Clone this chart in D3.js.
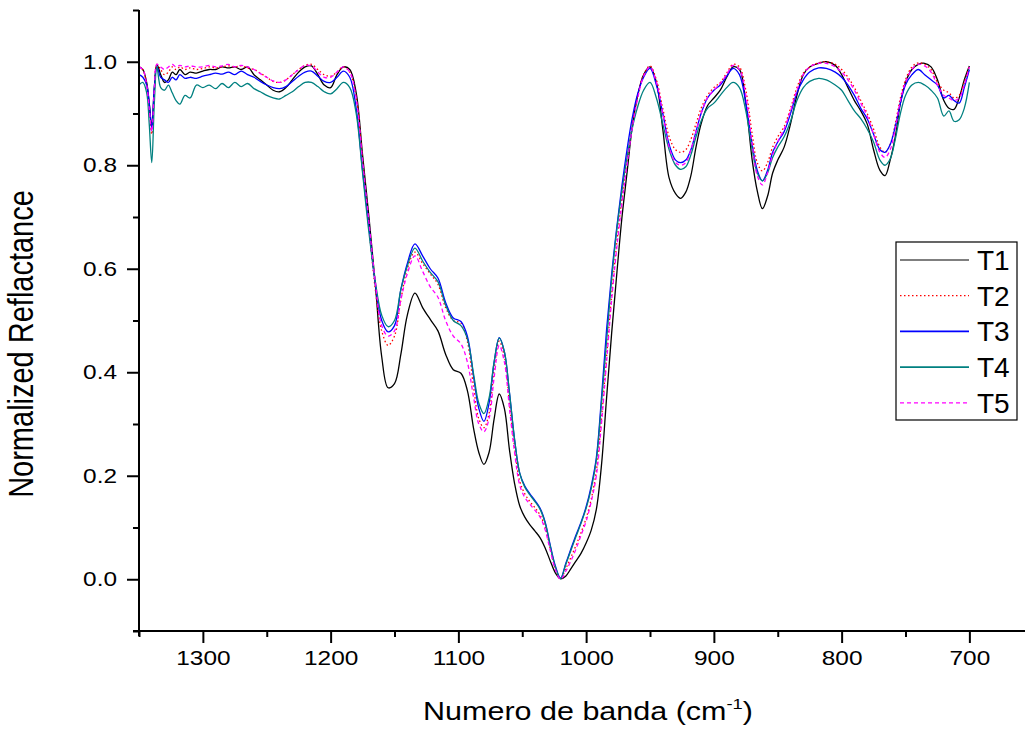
<!DOCTYPE html>
<html>
<head>
<meta charset="utf-8">
<script src="https://cdn.jsdelivr.net/npm/d3@7"></script>
<style>
  body { margin: 0; background: #fff; }
  svg { font-family: "Liberation Sans", Arial, sans-serif; }
</style>
</head>
<body>
<svg id="chart" width="1025" height="731"></svg>
<script>
// wavenumber grid (cm-1), shared by every series
var wavenumbers = [
  1350, 1347, 1344, 1342, 1340, 1338, 1336, 1333, 1330, 1327,
  1324, 1321, 1318, 1314, 1310, 1305, 1300, 1295, 1290, 1285,
  1280, 1275, 1270, 1265, 1260, 1255, 1250, 1245, 1240, 1235,
  1230, 1225, 1220, 1215, 1210, 1205, 1200, 1195, 1190,
  1185, 1180, 1175, 1170, 1165, 1160, 1155, 1150, 1145, 1140,
  1134, 1128, 1122, 1116, 1110, 1104, 1098, 1093, 1088, 1084,
  1080, 1076, 1072, 1068, 1064, 1060, 1056, 1052, 1048, 1044,
  1040, 1036, 1032, 1028, 1024, 1020, 1016, 1012, 1008, 1004,
  1000, 996, 992, 988, 984, 980, 976, 972, 968, 964,
  960, 955, 950,
  945, 940, 935, 930, 926, 922, 918, 914, 910, 905,
  900, 895, 890, 885, 880, 875, 870, 866, 862, 858,
  854, 850, 845, 840, 835, 830, 825, 818, 812, 805,
  800, 795, 790, 785, 780, 775, 770, 766, 762, 758,
  754, 750, 745, 740, 735, 730, 725, 720, 716, 712,
  708, 704, 700
];

var t1 = [
  0.99, 0.985, 0.96, 0.92, 0.875, 0.95, 0.995, 0.975, 0.96, 0.965,
  0.98, 0.975, 0.985, 0.975, 0.98, 0.978, 0.982, 0.985, 0.985, 0.99,
  0.988, 0.99, 0.985, 0.99, 0.975, 0.965, 0.955, 0.945, 0.942, 0.95,
  0.965, 0.98, 0.99, 0.992, 0.975, 0.955, 0.95, 0.975, 0.99,
  0.985, 0.94, 0.82, 0.70, 0.57, 0.43, 0.37, 0.378, 0.435, 0.51,
  0.553, 0.525, 0.502, 0.48, 0.435, 0.405, 0.398, 0.365, 0.29, 0.245,
  0.222, 0.245, 0.31, 0.358, 0.33, 0.25, 0.185, 0.142, 0.12, 0.105,
  0.093, 0.08, 0.06, 0.035, 0.012, 0.001, 0.006, 0.02, 0.035, 0.05,
  0.07, 0.095, 0.135, 0.22, 0.35, 0.476, 0.59, 0.698, 0.785, 0.872,
  0.93, 0.975, 0.99,
  0.96, 0.87, 0.775, 0.745, 0.736, 0.748, 0.78, 0.835, 0.88, 0.915,
  0.93, 0.945, 0.97, 0.99, 0.985, 0.92, 0.81, 0.75, 0.716, 0.74,
  0.785, 0.81, 0.835, 0.88, 0.935, 0.975, 0.99, 0.997, 1.0, 0.993,
  0.975, 0.95, 0.925, 0.905, 0.88, 0.83, 0.79, 0.78, 0.81, 0.855,
  0.92, 0.96, 0.985, 0.995, 0.997, 0.99, 0.965, 0.925, 0.91, 0.908,
  0.93, 0.965, 0.992
];

var t2 = [
  0.99, 0.985, 0.955, 0.91, 0.86, 0.94, 0.995, 0.985, 0.975, 0.98,
  0.99, 0.985, 0.99, 0.985, 0.988, 0.985, 0.987, 0.99, 0.988, 0.99,
  0.992, 0.99, 0.992, 0.988, 0.985, 0.978, 0.97, 0.962, 0.96, 0.965,
  0.975, 0.985, 0.993, 0.995, 0.985, 0.975, 0.972, 0.98, 0.99,
  0.98, 0.93, 0.81, 0.68, 0.56, 0.48, 0.452, 0.47, 0.54, 0.6,
  0.632, 0.61, 0.59, 0.57, 0.525, 0.5, 0.495, 0.46, 0.37, 0.31,
  0.293, 0.32, 0.405, 0.46, 0.43, 0.34, 0.255, 0.19, 0.165, 0.15,
  0.138, 0.124, 0.1, 0.058, 0.02, 0.001, 0.02, 0.042, 0.065, 0.09,
  0.118, 0.155, 0.21, 0.31, 0.43, 0.55, 0.65, 0.735, 0.81, 0.875,
  0.93, 0.975, 0.992,
  0.965, 0.91, 0.855, 0.83, 0.825, 0.83, 0.85, 0.88, 0.91, 0.935,
  0.95, 0.96, 0.978, 0.995, 0.99, 0.945, 0.86, 0.805, 0.789, 0.805,
  0.835, 0.855, 0.875, 0.91, 0.95, 0.978, 0.99, 0.998, 1.0, 0.995,
  0.985, 0.97, 0.95, 0.925, 0.9, 0.87, 0.835, 0.825, 0.84, 0.88,
  0.93, 0.965, 0.99, 0.998, 0.995, 0.985, 0.96, 0.945, 0.94, 0.93,
  0.935, 0.96, 0.993
];

var t3 = [
  0.975, 0.97, 0.955, 0.92, 0.87, 0.95, 0.99, 0.97, 0.965, 0.96,
  0.97, 0.965, 0.975, 0.968, 0.97, 0.968, 0.972, 0.975, 0.978, 0.976,
  0.98, 0.975, 0.982, 0.975, 0.97, 0.962, 0.955, 0.95, 0.948, 0.952,
  0.962, 0.972, 0.98, 0.982, 0.972, 0.962, 0.96, 0.97, 0.982,
  0.97, 0.91, 0.79, 0.68, 0.57, 0.5, 0.478, 0.49, 0.56, 0.61,
  0.648, 0.625, 0.6, 0.582, 0.535, 0.505, 0.498, 0.47, 0.39, 0.33,
  0.305, 0.34, 0.42, 0.467, 0.44, 0.36, 0.27, 0.205, 0.18, 0.165,
  0.152, 0.137, 0.11, 0.065, 0.025, 0.002, 0.03, 0.058, 0.085, 0.11,
  0.14, 0.18, 0.235, 0.35, 0.482, 0.59, 0.68, 0.76, 0.83, 0.89,
  0.935, 0.97, 0.987,
  0.955, 0.9, 0.84, 0.81, 0.805, 0.81, 0.83, 0.865, 0.9, 0.93,
  0.945, 0.955, 0.972, 0.987, 0.975, 0.92, 0.84, 0.79, 0.77, 0.79,
  0.825, 0.845, 0.865, 0.9, 0.94, 0.965, 0.98, 0.988, 0.987, 0.98,
  0.97, 0.955, 0.935, 0.91, 0.89, 0.86, 0.83, 0.825, 0.84, 0.875,
  0.92, 0.955, 0.975, 0.985, 0.975, 0.965, 0.955, 0.93, 0.935, 0.925,
  0.92, 0.95, 0.985
];

var t4 = [
  0.955, 0.96, 0.94, 0.88, 0.805, 0.92, 0.99, 0.95, 0.945, 0.955,
  0.94, 0.925, 0.918, 0.935, 0.93, 0.955, 0.95, 0.955, 0.948, 0.958,
  0.95, 0.96, 0.952, 0.958, 0.948, 0.942, 0.935, 0.93, 0.928, 0.935,
  0.942, 0.952, 0.96, 0.96, 0.952, 0.942, 0.938, 0.948, 0.96,
  0.95, 0.9, 0.785, 0.67, 0.575, 0.51, 0.488, 0.5, 0.56, 0.605,
  0.64, 0.615, 0.593, 0.575, 0.53, 0.5, 0.49, 0.465, 0.395, 0.34,
  0.32, 0.35, 0.42, 0.466, 0.44, 0.36, 0.27, 0.205, 0.178, 0.163,
  0.15, 0.135, 0.108, 0.063, 0.023, 0.001, 0.028, 0.055, 0.082, 0.108,
  0.137, 0.175, 0.23, 0.34, 0.46, 0.58, 0.675, 0.75, 0.815, 0.87,
  0.91, 0.945, 0.96,
  0.93, 0.88, 0.83, 0.8, 0.792, 0.797, 0.82, 0.855, 0.885, 0.91,
  0.92, 0.935, 0.95, 0.96, 0.95, 0.905, 0.83, 0.785, 0.77, 0.785,
  0.815, 0.835, 0.855, 0.885, 0.925, 0.95, 0.962, 0.968, 0.965, 0.955,
  0.945, 0.925, 0.905, 0.89, 0.87, 0.845, 0.81, 0.8, 0.812, 0.85,
  0.9, 0.935, 0.955, 0.96, 0.955, 0.945, 0.93, 0.895, 0.905, 0.885,
  0.888, 0.91, 0.96
];

var t5 = [
  0.99, 0.985, 0.955, 0.91, 0.865, 0.945, 0.995, 0.99, 0.985, 0.99,
  0.995, 0.99, 0.993, 0.99, 0.992, 0.99, 0.99, 0.993, 0.99, 0.992,
  0.995, 0.99, 0.993, 0.99, 0.985, 0.977, 0.97, 0.963, 0.96, 0.965,
  0.975, 0.985, 0.993, 0.992, 0.98, 0.97, 0.97, 0.98, 0.99,
  0.98, 0.93, 0.81, 0.69, 0.575, 0.49, 0.47, 0.48, 0.54, 0.59,
  0.625, 0.595, 0.565, 0.545, 0.5, 0.47, 0.455, 0.42, 0.35, 0.3,
  0.285, 0.31, 0.39, 0.452, 0.42, 0.33, 0.245, 0.182, 0.158, 0.145,
  0.133, 0.12, 0.095, 0.055, 0.018, 0.0, 0.015, 0.035, 0.058, 0.085,
  0.112, 0.15, 0.2, 0.3, 0.42, 0.54, 0.64, 0.725, 0.8, 0.87,
  0.925, 0.972, 0.99,
  0.96, 0.9, 0.835, 0.805, 0.8, 0.805, 0.83, 0.865, 0.9, 0.93,
  0.945, 0.958, 0.975, 0.993, 0.985, 0.935, 0.84, 0.78, 0.762, 0.785,
  0.82, 0.845, 0.87, 0.905, 0.945, 0.975, 0.99, 0.997, 0.997, 0.99,
  0.98, 0.965, 0.945, 0.92, 0.895, 0.86, 0.825, 0.815, 0.83, 0.87,
  0.925, 0.96, 0.985, 0.995, 0.992, 0.98, 0.955, 0.935, 0.93, 0.925,
  0.93, 0.955, 0.99
];

var seriesNames = ["T1", "T2", "T3", "T4", "T5"];
var seriesValues = [t1, t2, t3, t4, t5];
var xMajorTicks = [1300, 1200, 1100, 1000, 900, 800, 700];
var xMinorTicks = [1350, 1250, 1150, 1050, 950, 850, 750, 650];
var yMajorTicks = [0.0, 0.2, 0.4, 0.6, 0.8, 1.0];
var yMinorTicks = [-0.1, 0.1, 0.3, 0.5, 0.7, 0.9, 1.1];

var styles = {
  T1: { color: "#000000", dash: null, legendWidth: 1.2 },
  T2: { color: "#ff0000", dash: "1.5,2.5", legendWidth: 1.3 },
  T3: { color: "#0000ff", dash: null, legendWidth: 1.8 },
  T4: { color: "#008080", dash: null, legendWidth: 1.8 },
  T5: { color: "#ff00ff", dash: "4,3", legendWidth: 1.3 }
};

var svg = d3.select("#chart");
var plotLeft = 139, plotBottom = 631, plotTop = 10;
var stretch = 1.22; // the original figure is wider than its fonts

var x = d3.scaleLinear().domain([1350, 650]).range([plotLeft, plotLeft + 700 * 1.2775]);
var y = d3.scaleLinear().domain([-0.1, 1.1]).range([plotBottom, plotTop]);

function widen(sel) {
  sel.each(function () {
    var w = this.getComputedTextLength();
    d3.select(this).attr("textLength", w * stretch).attr("lengthAdjust", "spacingAndGlyphs");
  });
}

// curves
var line = d3.line()
  .x(function (d) { return x(d[0]); })
  .y(function (d) { return y(d[1]); })
  .curve(d3.curveCatmullRom.alpha(0.5));

var plot = svg.append("g");
seriesNames.forEach(function (name, i) {
  var pts = wavenumbers.map(function (w, j) { return [w, seriesValues[i][j]]; });
  plot.append("path")
    .datum(pts)
    .attr("fill", "none")
    .attr("stroke", styles[name].color)
    .attr("stroke-width", 1.3)
    .attr("stroke-dasharray", styles[name].dash)
    .attr("d", line);
});

// x axis
var xMinorG = svg.append("g").attr("transform", "translate(0," + plotBottom + ")")
  .call(d3.axisBottom(x).tickValues(xMinorTicks).tickSize(6).tickFormat(""));
xMinorG.select(".domain").remove();
var xMajorG = svg.append("g").attr("transform", "translate(0," + plotBottom + ")")
  .call(d3.axisBottom(x).tickValues(xMajorTicks).tickSize(12).tickSizeOuter(0)
    .tickPadding(8).tickFormat(d3.format("d")));
xMajorG.selectAll("text").attr("font-size", 20).attr("fill", "#000")
  .attr("font-family", "Liberation Sans, Arial, sans-serif").call(widen);
xMajorG.select(".domain").attr("d", "M" + (plotLeft - 6) + ",0H1025");

// y axis
var yMinorG = svg.append("g").attr("transform", "translate(" + plotLeft + ",0)")
  .call(d3.axisLeft(y).tickValues(yMinorTicks).tickSize(6).tickFormat(""));
yMinorG.select(".domain").remove();
var yMajorG = svg.append("g").attr("transform", "translate(" + plotLeft + ",0)")
  .call(d3.axisLeft(y).tickValues(yMajorTicks).tickSize(12).tickSizeOuter(0)
    .tickPadding(10).tickFormat(d3.format(".1f")));
yMajorG.selectAll("text").attr("font-size", 20).attr("fill", "#000")
  .attr("font-family", "Liberation Sans, Arial, sans-serif").call(widen);
yMajorG.select(".domain").attr("d", "M0," + plotTop + "V" + (plotBottom + 5));

svg.selectAll(".tick line, .domain").attr("stroke", "#000").attr("stroke-width", 2);

// titles
var xt = svg.append("text")
  .attr("x", 588).attr("y", 720)
  .attr("text-anchor", "middle")
  .attr("font-size", 25)
  .attr("transform", "translate(588,0) scale(" + stretch + ",1) translate(-588,0)");
xt.append("tspan").text("Numero de banda (cm");
xt.append("tspan").attr("font-size", 15).attr("dy", -11).text("-1");
xt.append("tspan").attr("dy", 11).text(")");

svg.append("text")
  .attr("transform", "translate(33,344) scale(" + stretch + ",1) rotate(-90)")
  .attr("text-anchor", "middle")
  .attr("font-size", 29)
  .text("Normalized Reflactance");

// legend
var lg = svg.append("g");
lg.append("rect")
  .attr("x", 896).attr("y", 242).attr("width", 121).attr("height", 178)
  .attr("fill", "#fff").attr("stroke", "#000").attr("stroke-width", 1.2);
seriesNames.forEach(function (name, i) {
  var ly = 260 + i * 35.7;
  lg.append("line")
    .attr("x1", 900).attr("x2", 969).attr("y1", ly).attr("y2", ly)
    .attr("stroke", styles[name].color)
    .attr("stroke-width", styles[name].legendWidth)
    .attr("stroke-dasharray", styles[name].dash);
  lg.append("text")
    .attr("x", 977).attr("y", ly)
    .attr("dy", "0.36em")
    .attr("font-size", 28)
    .text(name);
});
</script>
</body>
</html>
